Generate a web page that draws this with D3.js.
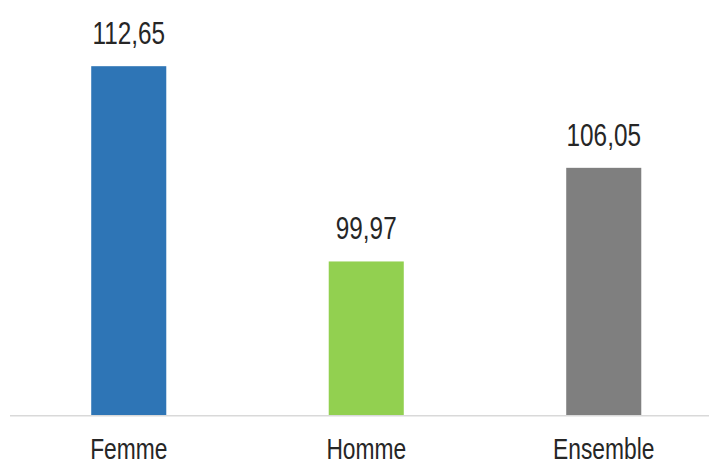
<!DOCTYPE html>
<html>
<head>
<meta charset="utf-8">
<script src="https://cdn.jsdelivr.net/npm/d3@7"></script>
<style>
  body { margin: 0; background: #fff; }
  text { font-family: "Liberation Sans", Arial, sans-serif; fill: #262626; }
</style>
</head>
<body>
<svg id="chart" width="709" height="466"></svg>
<script>
const categories = ["Femme", "Homme", "Ensemble"];
const values = [112.65, 99.97, 106.05];
const colors = ["#2E75B6", "#92D050", "#7F7F7F"];

const svg = d3.select("#chart");
const width = 709;
const baseline = 415;
const squeeze = 0.76; // narrow look of the original font

const x = d3.scaleBand()
    .domain(categories)
    .range([10, 722.5])
    .paddingInner(0.684)
    .paddingOuter(0.342);

const y = d3.scaleLinear()
    .domain([90, 115])
    .range([baseline, baseline - 25 * 15.4]);

const data = categories.map((c, i) => ({cat: c, value: values[i], color: colors[i]}));
const fmt = v => d3.format(".2f")(v).replace(".", ",");

svg.selectAll("rect.bar")
    .data(data)
    .enter().append("rect")
    .attr("class", "bar")
    .attr("x", d => x(d.cat))
    .attr("y", d => y(d.value))
    .attr("width", x.bandwidth())
    .attr("height", d => baseline - y(d.value))
    .attr("fill", d => d.color);

// axis line
svg.append("line")
    .attr("x1", 10)
    .attr("x2", width)
    .attr("y1", baseline + 0.75)
    .attr("y2", baseline + 0.75)
    .attr("stroke", "#d9d9d9")
    .attr("stroke-width", 1.5);

// value labels
svg.selectAll("text.value")
    .data(data)
    .enter().append("text")
    .attr("class", "value")
    .attr("text-anchor", "middle")
    .attr("font-size", 32)
    .attr("transform", d => `translate(${x(d.cat) + x.bandwidth() / 2},${y(d.value) - 22}) scale(${squeeze},1)`)
    .text(d => fmt(d.value));

// category labels
svg.selectAll("text.cat")
    .data(data)
    .enter().append("text")
    .attr("class", "cat")
    .attr("text-anchor", "middle")
    .attr("font-size", 30)
    .attr("transform", d => `translate(${x(d.cat) + x.bandwidth() / 2},459) scale(${squeeze},1)`)
    .text(d => d.cat);
</script>
</body>
</html>
